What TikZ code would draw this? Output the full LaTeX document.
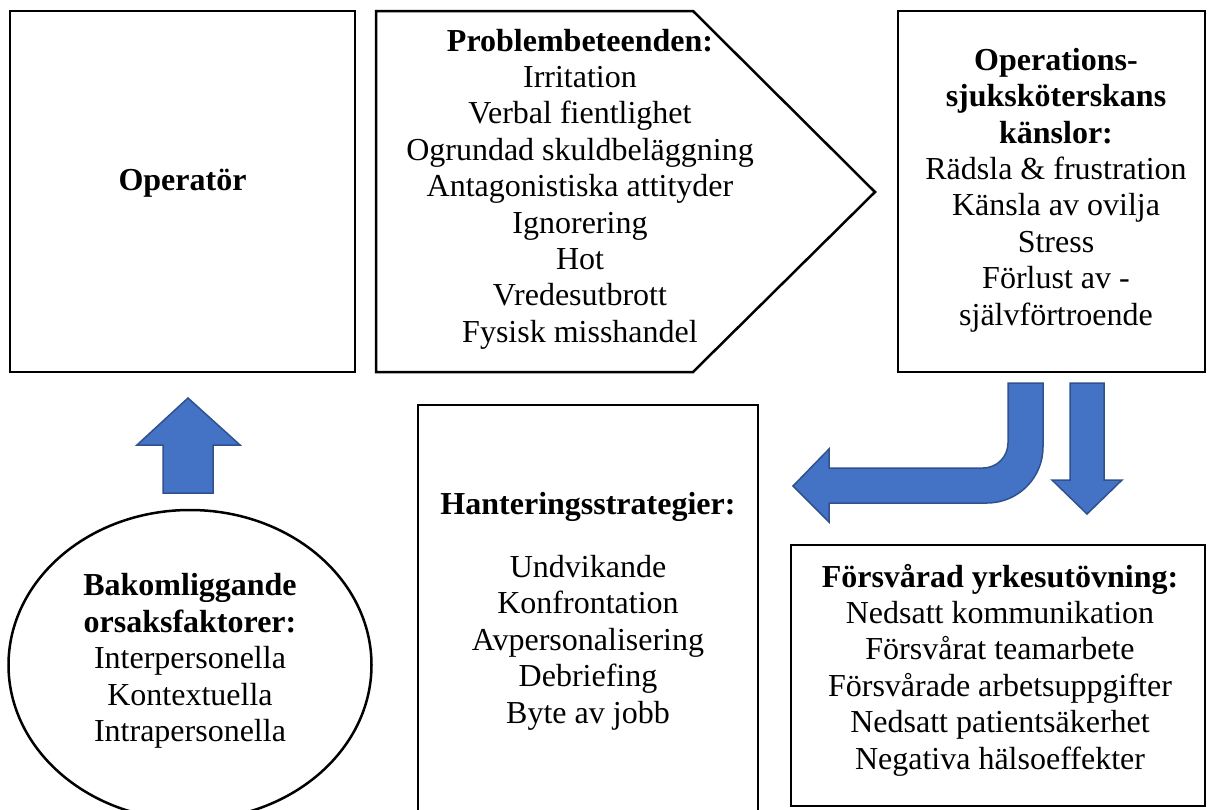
\documentclass[tikz,border=0pt]{standalone}
\usepackage{fontspec}
\setmainfont{Liberation Serif}
\usepackage{tikz}
\usetikzlibrary{shapes.geometric, positioning, calc}
\usepackage{xcolor}
\definecolor{arrowfill}{HTML}{4472C4}
\definecolor{arrowline}{HTML}{2F528F}

\tikzset{
  box/.style={draw=black, line width=2.5pt, fill=white, inner sep=0pt},
  boxtext/.style={align=center, inner sep=0pt, font=\fontsize{32}{36.4}\selectfont},
  blockarrow/.style={draw=arrowline, fill=arrowfill, line width=1.5pt, line join=miter}
}

\begin{document}
\begin{tikzpicture}[x=1pt, y=-1pt]
\useasboundingbox (0,0) rectangle (1208,809);
\clip (0,0) rectangle (1208,809);
\fill[white] (0,0) rectangle (1208,809);

\node[box, minimum width=345pt, minimum height=361pt] (operator) at (182.5,191.5) {};
\node[boxtext] (operatortext) at ([yshift=8pt]operator.center) {\textbf{Operatör}};

\coordinate (pA) at (376,11);
\coordinate (pB) at (693,11);
\coordinate (pTip) at (875,192);
\coordinate (pC) at (693,372);
\coordinate (pD) at (376,372);
\draw[box, line join=miter] (pA) -- (pB) -- (pTip) -- (pC) -- (pD) -- cycle;
\node[boxtext] (behaviour) at (580,189) {\textbf{Problembeteenden:}\\
  Irritation\\
  Verbal fientlighet\\
  Ogrundad skuldbeläggning\\
  Antagonistiska attityder\\
  Ignorering\\
  Hot\\
  Vredesutbrott\\
  Fysisk misshandel};

\node[box, minimum width=307pt, minimum height=361pt] (feelings) at (1051.5,191.5) {};
\node[boxtext] (feelingstext) at (1056,190) {\textbf{Operations-}\\
  \textbf{sjuksköterskans}\\
  \textbf{känslor:}\\
  Rädsla \& frustration\\
  Känsla av ovilja\\
  Stress\\
  Förlust av -\\
  självförtroende};

\node[box, ellipse, minimum width=363pt, minimum height=310pt] (causes) at (190,665) {};
\node[boxtext] (causestext) at (190,661) {\textbf{Bakomliggande}\\
  \textbf{orsaksfaktorer:}\\
  Interpersonella\\
  Kontextuella\\
  Intrapersonella};

\node[box, minimum width=340pt, minimum height=455pt] (coping) at (588,632.5) {};
\node[boxtext] (copingtext) at (588,611) {\textbf{Hanteringsstrategier:}\\[27pt]
  Undvikande\\
  Konfrontation\\
  Avpersonalisering\\
  Debriefing\\
  Byte av jobb};

\node[box, minimum width=414pt, minimum height=261pt] (work) at (998,675.5) {};
\node[boxtext] (worktext) at (1000,670) {\textbf{Försvårad yrkesutövning:}\\
  Nedsatt kommunikation\\
  Försvårat teamarbete\\
  Försvårade arbetsuppgifter\\
  Nedsatt patientsäkerhet\\
  Negativa hälsoeffekter};

\draw[blockarrow] (163,493) -- (163,445) -- (137,445) -- (188,398) -- (240,445)
  -- (213,445) -- (213,493) -- cycle;

\draw[blockarrow] (1043,383) -- (1043,447) arc[start angle=0, end angle=90, radius=56]
  -- (829,503) -- (829,522) -- (793,486) -- (829,449) -- (829,468) -- (983,468)
  arc[start angle=90, end angle=0, radius=25] -- (1008,383) -- cycle;

\draw[blockarrow] (1070,383) -- (1070,480) -- (1052,480) -- (1087,514) -- (1122,480)
  -- (1104,480) -- (1104,383) -- cycle;
\end{tikzpicture}
\end{document}
